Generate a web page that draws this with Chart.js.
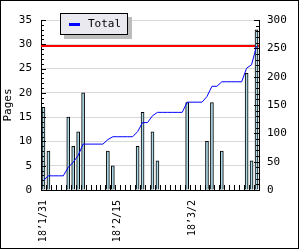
<!DOCTYPE html>
<html>
<head>
<meta charset="utf-8">
<script src="https://cdn.jsdelivr.net/npm/chart.js@4"></script>
<style>
  body { margin: 0; background: #fff; }
  #wrap { position: relative; width: 300px; height: 250px; }
  #legend {
    position: absolute; left: 60px; top: 13px; width: 68px; height: 22px; box-sizing: border-box;
    border: 1px solid #000; background: #ebe9f0; box-shadow: 4px 4px 0 #bdbdbd;
    font: 11px "DejaVu Sans Mono", monospace; color: #000;
  }
  #legend .mark { position: absolute; left: 8px; top: 9px; width: 11px; height: 3px; background: #0000ff; }
  #legend .txt { position: absolute; left: 27px; top: 3px; }
</style>
</head>
<body>
<div id="wrap">
  <canvas id="chart" width="300" height="250"></canvas>
  <div id="legend"><span class="mark"></span><span class="txt">Total</span></div>
</div>
<script>
// ── DATA ──
const days = [
    '18’1/31',
    '18’2/1', '18’2/2', '18’2/3', '18’2/4', '18’2/5', '18’2/6', '18’2/7', '18’2/8', '18’2/9', '18’2/10',
    '18’2/11', '18’2/12', '18’2/13', '18’2/14', '18’2/15', '18’2/16', '18’2/17', '18’2/18', '18’2/19', '18’2/20',
    '18’2/21', '18’2/22', '18’2/23', '18’2/24', '18’2/25', '18’2/26', '18’2/27', '18’2/28',
    '18’3/1', '18’3/2', '18’3/3', '18’3/4', '18’3/5', '18’3/6', '18’3/7', '18’3/8', '18’3/9', '18’3/10',
    '18’3/11', '18’3/12', '18’3/13', '18’3/14', '18’3/15'
];
const shownTicks = ['18’1/31', '18’2/15', '18’3/2'];

// pages per day (left axis)
const pages = [17, 8, 0, 0, 0, 15, 9, 12, 20, 0, 0, 0, 0, 8, 5, 0, 0, 0, 0, 9, 16, 0, 12, 6,
    0, 0, 0, 0, 0, 18, 0, 0, 0, 10, 18, 0, 8, 0, 0, 0, 0, 24, 6, 33];

// running total (right axis)
const totals = [17, 25, 25, 25, 25, 40, 49, 61, 81, 81, 81, 81, 81, 89, 94, 94, 94, 94, 94, 103, 119, 119, 131, 137,
    137, 137, 137, 137, 137, 155, 155, 155, 155, 165, 183, 183, 191, 191, 191, 191, 191, 215, 221, 254];

// red reference line (right axis)
const targetTotal = 254;

const FONT = {family: 'DejaVu Sans Mono', size: 11};

// ── PLUGINS ──
const frame = {
    id: 'frame',
    beforeDraw: (chart) => {
        const {ctx} = chart;
        ctx.save();
        ctx.fillStyle = '#fff';
        ctx.fillRect(0, 0, chart.width, chart.height);
        ctx.restore();
    },
    afterDraw: (chart) => {
        const {ctx} = chart;
        ctx.save();
        ctx.strokeStyle = '#000';
        ctx.lineWidth = 1;
        ctx.strokeRect(0.5, 0.5, 298, 248);
        ctx.restore();
    }
};

const targetLine = {
    id: 'targetLine',
    beforeDatasetsDraw: (chart) => {
        const {ctx, chartArea: a, scales: {y1}} = chart;
        const py = y1.getPixelForValue(targetTotal);
        ctx.save();
        ctx.strokeStyle = '#ff0000';
        ctx.lineWidth = 2;
        ctx.beginPath();
        ctx.moveTo(a.left, py);
        ctx.lineTo(a.right, py);
        ctx.stroke();
        ctx.restore();
    }
};

// small inward tick marks on all three axes
const axisTicks = {
    id: 'axisTicks',
    afterDraw: (chart) => {
        const {ctx, chartArea: a, scales: {x, y, y1}} = chart;
        ctx.save();
        ctx.strokeStyle = '#000';
        ctx.lineWidth = 1;
        ctx.beginPath();
        for (let v = 0; v <= 35; v++) {
            const py = Math.round(y.getPixelForValue(v)) + 0.5;
            ctx.moveTo(a.left, py);
            ctx.lineTo(a.left + (v % 5 ? 3 : 5), py);
        }
        for (let v = 0; v <= 300; v += 10) {
            const py = Math.round(y1.getPixelForValue(v)) + 0.5;
            ctx.moveTo(a.right, py);
            ctx.lineTo(a.right - (v % 50 ? 3 : 5), py);
        }
        for (let i = 1; i < days.length; i++) {
            const px = Math.round((x.getPixelForValue(i - 1) + x.getPixelForValue(i)) / 2) + 0.5;
            ctx.moveTo(px, a.bottom);
            ctx.lineTo(px, a.bottom - 5);
        }
        ctx.stroke();
        ctx.restore();
    }
};

// ── CHART ──
new Chart(document.getElementById('chart'), {
    type: 'bar',
    data: {
        labels: days,
        datasets: [
            {
                type: 'line', label: 'Total', data: totals, yAxisID: 'y1',
                borderColor: '#0000ff', borderWidth: 1, pointRadius: 0, tension: 0, order: 0
            },
            {
                label: 'Pages', data: pages, yAxisID: 'y',
                backgroundColor: '#add8e6', borderColor: '#000', borderWidth: 1, barThickness: 3, order: 1
            }
        ]
    },
    options: {
        responsive: false, animation: false, devicePixelRatio: 1,
        layout: {padding: {top: 20, left: 0, right: 0, bottom: 0}},
        plugins: {legend: {display: false}, tooltip: {enabled: false}},
        scales: {
            x: {
                type: 'category', offset: true,
                grid: {display: false, drawTicks: false},
                border: {color: '#000'},
                ticks: {
                    autoSkip: false, minRotation: 90, maxRotation: 90, padding: 10,
                    font: {family: 'DejaVu Sans Mono', size: 10}, color: '#000',
                    callback: function (v) {
                        const l = this.getLabelForValue(v);
                        return shownTicks.includes(l) ? l : '';
                    }
                },
                afterFit: (s) => { s.height = 60; }
            },
            y: {
                position: 'left', min: 0, max: 35,
                ticks: {stepSize: 5, padding: 9, font: FONT, color: '#000'},
                grid: {color: '#d9d9d9', drawTicks: false},
                border: {color: '#000'},
                title: {display: true, text: 'Pages', font: FONT, color: '#000', padding: {top: 2, bottom: 0}},
                afterFit: (s) => { s.width = 41; }
            },
            y1: {
                position: 'right', min: 0, max: 300,
                ticks: {stepSize: 50, padding: 8, font: FONT, color: '#000'},
                grid: {drawOnChartArea: false, drawTicks: false},
                border: {color: '#000'},
                afterFit: (s) => { s.width = 41; }
            }
        }
    },
    plugins: [frame, targetLine, axisTicks]
});
</script>
</body>
</html>
